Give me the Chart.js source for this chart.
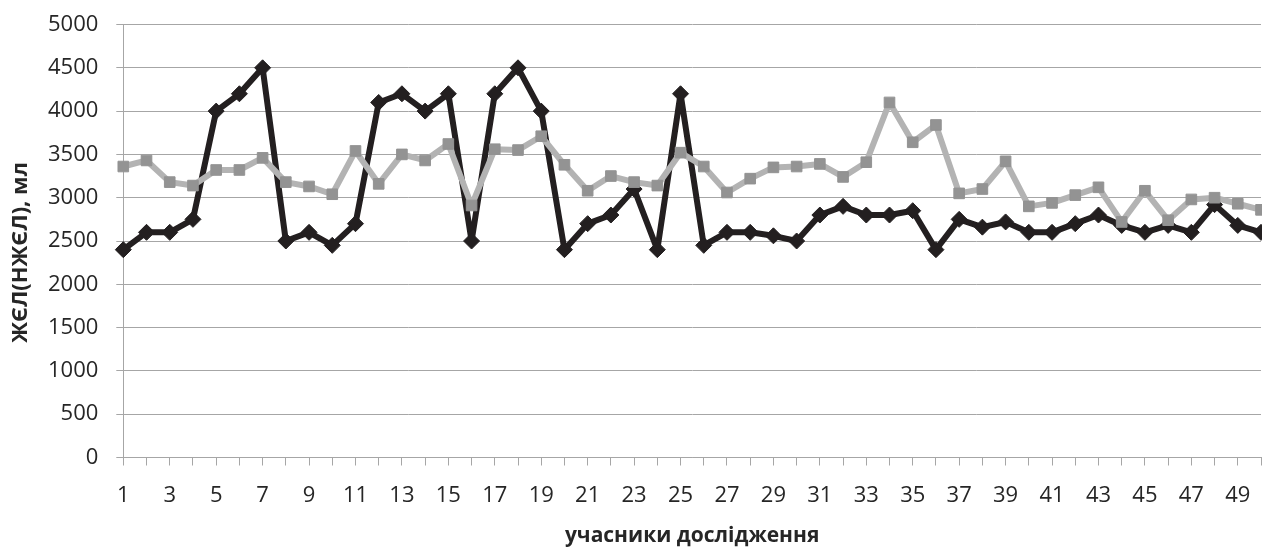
<!DOCTYPE html>
<html>
<head>
<meta charset="utf-8">
<script src="https://cdn.jsdelivr.net/npm/chart.js@4.4.1/dist/chart.umd.min.js"></script>
<style>
  html, body { margin:0; padding:0; background:#fff; overflow:hidden; }
  #wrap { width:1270px; height:549px; }
</style>
</head>
<body>
<div id="wrap"><canvas id="chart" width="1270" height="549"></canvas></div>
<script>
// ============================
// DATA
// ============================

const participants = [];
for(let i = 1; i <= 50; i++) participants.push(String(i));

// ЖЄЛ (black, diamonds)
const zhel = [
  2400, 2600, 2600, 2750, 4000, 4200, 4500, 2500, 2600, 2450,
  2700, 4100, 4200, 4000, 4200, 2500, 4200, 4500, 4000, 2400,
  2700, 2800, 3100, 2400, 4200, 2450, 2600, 2600, 2560, 2500,
  2800, 2900, 2800, 2800, 2850, 2400, 2750, 2660, 2720, 2600,
  2600, 2700, 2800, 2680, 2600, 2680, 2600, 2920, 2680, 2600
];

// НЖЄЛ (gray, squares)
const nzhel = [
  3360, 3430, 3180, 3140, 3320, 3320, 3460, 3180, 3130, 3040,
  3540, 3160, 3500, 3430, 3620, 2910, 3560, 3550, 3710, 3380,
  3080, 3250, 3180, 3140, 3520, 3360, 3060, 3220, 3350, 3360,
  3390, 3240, 3410, 4100, 3640, 3840, 3050, 3100, 3420, 2900,
  2940, 3030, 3120, 2720, 3080, 2740, 2980, 3000, 2930, 2860
];

const yTicks = [0, 500, 1000, 1500, 2000, 2500, 3000, 3500, 4000, 4500, 5000];

const GRID = "#a6a6a6";
const TEXT = "#262626";

// ============================
// CHART
// ============================

new Chart(document.getElementById("chart"), {
  type: "line",
  data: {
    labels: participants,
    datasets: [
      {
        label: "ЖЄЛ",
        data: zhel,
        borderColor: "#231f20",
        backgroundColor: "#231f20",
        borderWidth: 6,
        borderJoinStyle: "round",
        pointStyle: "rectRot",
        pointRadius: 8,
        pointBorderWidth: 1,
        tension: 0,
        order: 1
      },
      {
        label: "НЖЄЛ",
        data: nzhel,
        borderColor: "#b3b3b3",
        backgroundColor: "#939393",
        pointBorderColor: "#939393",
        borderWidth: 6,
        borderJoinStyle: "round",
        pointStyle: "rect",
        pointRadius: 7.5,
        pointBorderWidth: 1,
        tension: 0,
        order: 0
      }
    ]
  },
  options: {
    responsive: false,
    animation: false,
    layout: { padding: { top: 24.5, right: 6.7, bottom: 0, left: 0 } },
    plugins: {
      legend: { display: false },
      tooltip: { enabled: false }
    },
    scales: {
      x: {
        offset: false,
        afterFit: s => {
          s.height = 91.5;
          s.paddingLeft = 0;
          s.paddingRight = 0;
        },
        grid: {
          drawOnChartArea: false,
          drawTicks: true,
          tickLength: 8,
          color: GRID
        },
        border: { color: GRID, width: 1 },
        ticks: {
          autoSkip: false,
          maxRotation: 0,
          padding: 17,
          color: TEXT,
          font: { family: "Open Sans", size: 22 },
          callback: (v, i) => (i % 2 === 0 ? participants[i] : "")
        },
        title: {
          display: true,
          text: "учасники дослідження",
          color: TEXT,
          font: { family: "Open Sans", size: 21, weight: "bold" },
          padding: { top: 0, bottom: 0 }
        }
      },
      y: {
        min: 0,
        max: 5000,
        afterFit: s => {
          s.width = 123.3;
          s.paddingTop = 0;
          s.paddingBottom = 0;
        },
        afterBuildTicks: s => { s.ticks = yTicks.map(v => ({ value: v })); },
        grid: {
          color: GRID,
          tickLength: 7
        },
        border: { color: GRID, width: 1 },
        ticks: {
          padding: 18,
          color: TEXT,
          font: { family: "Open Sans", size: 22 },
          callback: v => String(v)
        },
        title: {
          display: true,
          // trailing no-break spaces nudge the rotated title down a little
          text: "ЖЄЛ(НЖЄЛ), мл\u00a0\u00a0\u00a0\u00a0",
          color: TEXT,
          font: { family: "Open Sans", size: 22, weight: "bold" },
          padding: { top: 8, bottom: 0 }
        }
      }
    }
  }
});
</script>
</body>
</html>
